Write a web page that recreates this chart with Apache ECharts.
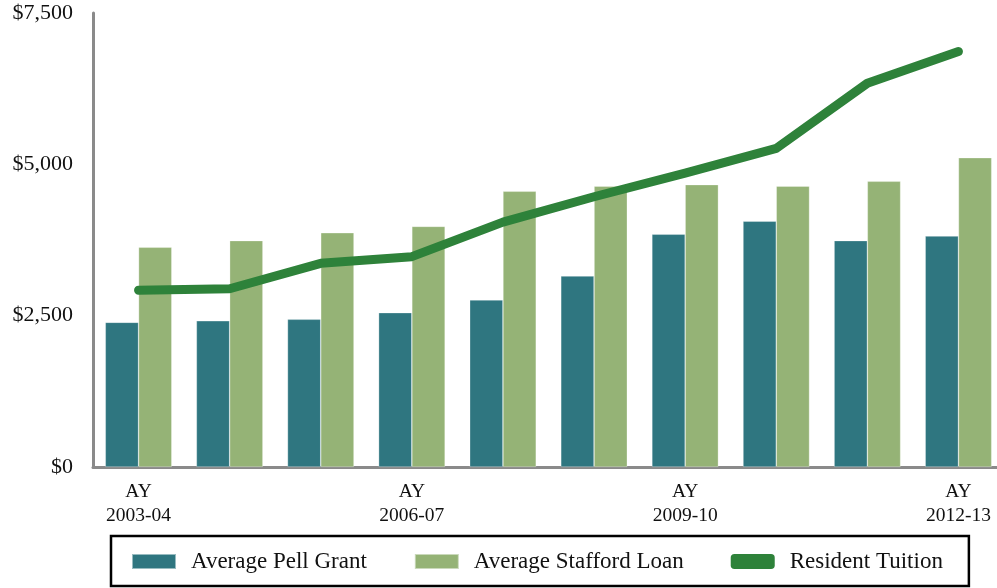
<!DOCTYPE html>
<html>
<head>
<meta charset="utf-8">
<script src="https://cdn.jsdelivr.net/npm/echarts@6/dist/echarts.min.js"></script>
<style>
  html, body { margin: 0; padding: 0; background: #fff; overflow: hidden; }
  /* plot area runs slightly past the right edge of the picture, as in the original */
  #chart { width: 1004px; height: 588px; }
</style>
</head>
<body>
<div id="chart"></div>
<script>
// Academic years (x axis)
const years = ['2003-04', '2004-05', '2005-06', '2006-07', '2007-08',
               '2008-09', '2009-10', '2010-11', '2011-12', '2012-13'];

// Series values, in dollars
const pellGrant    = [2390, 2415, 2440, 2550, 2760, 3155, 3845, 4060, 3740, 3815];
const staffordLoan = [3630, 3740, 3870, 3975, 4555, 4640, 4665, 4640, 4720, 5110];
const tuition      = [2920, 2945, 3365, 3475, 4045, 4465, 4855, 5265, 6340, 6865];

const yTicks = [0, 2500, 5000, 7500];

const serif = '"Liberation Serif", "DejaVu Serif", serif';
const axisGrey = '#8a8a8a';

const chart = echarts.init(document.getElementById('chart'));

chart.setOption({
  animation: false,
  grid: { left: 93, top: 13, right: 0, bottom: 121, containLabel: false },
  xAxis: {
    type: 'category',
    data: years.map(y => 'AY\n' + y),
    axisLine: { show: true, lineStyle: { color: axisGrey, width: 3 } },
    axisTick: { show: false },
    axisLabel: {
      interval: 2,
      margin: 13,
      fontFamily: serif,
      fontSize: 19.5,
      lineHeight: 24,
      color: '#111'
    }
  },
  yAxis: {
    type: 'value',
    min: yTicks[0],
    max: yTicks[yTicks.length - 1],
    interval: 2500,
    splitLine: { show: false },
    axisLine: { show: true, lineStyle: { color: axisGrey, width: 3 } },
    axisTick: { show: false },
    axisLabel: {
      margin: 20,
      fontFamily: serif,
      fontSize: 22,
      color: '#111',
      formatter: v => '$' + v.toLocaleString('en-US')
    }
  },
  legend: {
    left: 111,
    bottom: 2,
    width: 900,
    padding: [14, 26, 13, 20],
    borderColor: '#000',
    borderWidth: 2.5,
    itemWidth: 44,
    itemHeight: 15,
    itemGap: 47,
    textStyle: { fontFamily: serif, fontSize: 23, color: '#111', padding: [0, 0, 0, 10] },
    data: [
      { name: 'Average Pell Grant', icon: 'rect' },
      { name: 'Average Stafford Loan', icon: 'rect' },
      { name: 'Resident Tuition', icon: 'roundRect' }
    ]
  },
  series: [
    {
      name: 'Average Pell Grant',
      type: 'bar',
      data: pellGrant,
      barGap: '0%',
      barCategoryGap: '27%',
      itemStyle: { color: '#2f7680', borderColor: 'rgba(255,255,255,0.5)', borderWidth: 0.6 }
    },
    {
      name: 'Average Stafford Loan',
      type: 'bar',
      data: staffordLoan,
      itemStyle: { color: '#95b376', borderColor: 'rgba(255,255,255,0.5)', borderWidth: 0.6 }
    },
    {
      name: 'Resident Tuition',
      type: 'line',
      data: tuition,
      symbol: 'none',
      z: 5,
      lineStyle: { color: '#2e823a', width: 9, cap: 'round', join: 'round' },
      itemStyle: { color: '#2e823a' }
    }
  ]
});
</script>
</body>
</html>
